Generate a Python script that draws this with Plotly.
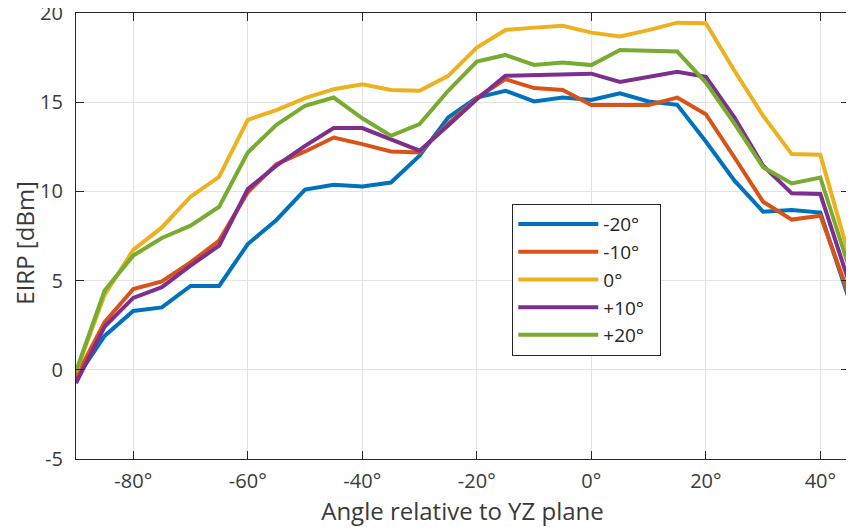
import plotly.graph_objects as go

angles = list(range(-90, 50, 5))
s_m20 = [-0.5, 1.9, 3.3, 3.5, 4.7, 4.7, 7.05, 8.4, 10.1, 10.37, 10.28, 10.5, 12.0, 14.14,
         15.26, 15.64, 15.04, 15.26, 15.12, 15.5, 15.04, 14.85, 12.8, 10.6, 8.86, 8.96, 8.81, 3.95]
s_m10 = [-0.4, 2.67, 4.53, 4.96, 6.02, 7.24, 9.95, 11.53, 12.24, 13.02, 12.65, 12.24, 12.18, 13.8,
         15.23, 16.29, 15.79, 15.69, 14.84, 14.84, 14.84, 15.26, 14.33, 11.9, 9.42, 8.42, 8.64, 4.2]
s_0 = [-0.13, 4.2, 6.72, 7.98, 9.7, 10.82, 14.01, 14.56, 15.23, 15.73, 16.01, 15.68, 15.64, 16.48,
       18.06, 19.05, 19.18, 19.28, 18.9, 18.68, 19.04, 19.46, 19.43, 16.76, 14.24, 12.09, 12.05, 6.4]
s_p10 = [-0.75, 2.42, 4.03, 4.63, 5.84, 6.96, 10.13, 11.44, 12.55, 13.55, 13.55, 12.93, 12.28, 13.7,
         15.17, 16.48, 16.53, 16.6, 16.6, 16.14, 16.42, 16.7, 16.42, 14.14, 11.44, 9.89, 9.85, 4.9]
s_p20 = [-0.08, 4.44, 6.4, 7.39, 8.08, 9.14, 12.18, 13.73, 14.8, 15.26, 14.1, 13.12, 13.77, 15.64,
         17.28, 17.65, 17.09, 17.22, 17.08, 17.93, 17.88, 17.84, 16.1, 13.8, 11.35, 10.45, 10.78, 5.74]

series = [("-20°", s_m20, "#0072BD"), ("-10°", s_m10, "#D95319"), ("0°", s_0, "#EDB120"),
          ("+10°", s_p10, "#7E2F8E"), ("+20°", s_p20, "#77AC30")]

x_ticks = [-80, -60, -40, -20, 0, 20, 40]
x_tick_labels = ["-80°", "-60°", "-40°", "-20°", "0°", "20°", "40°"]
y_ticks = [-5, 0, 5, 10, 15, 20]
y_tick_labels = ["-5", "0", "5", "10", "15", "20"]

fig = go.Figure()
for name, vals, col in series:
    fig.add_trace(go.Scatter(x=angles, y=vals, mode="lines", name=name + "\u00a0\u00a0",
                             line=dict(color=col, width=4)))

axis_common = dict(showline=True, linecolor="#262626", linewidth=1.3, mirror="ticks",
                   ticks="inside", ticklen=8, tickcolor="#262626", tickwidth=1.3,
                   showgrid=True, gridcolor="#e3e3e3", gridwidth=1.3, zeroline=False,
                   automargin=False, ticklabeloverflow="allow",
                   tickfont=dict(size=20, color="#3a3a3a"))

# page body has an 8px margin; figure sized so the plot lands where the reference has it
fig.update_layout(
    width=846, height=519,
    margin=dict(l=68, r=5, t=5, b=68),
    paper_bgcolor="white", plot_bgcolor="white",
    font=dict(family="Open Sans", color="#3a3a3a"),
    xaxis=dict(range=[-90, 45], tickvals=x_ticks, ticktext=x_tick_labels,
               ticklabelstandoff=4,
               title=dict(text="Angle relative to YZ plane", font=dict(size=24), standoff=0),
               **axis_common),
    yaxis=dict(range=[-5, 20.0001], tickvals=y_ticks, ticktext=y_tick_labels,
               ticklabelstandoff=8, **axis_common),
    legend=dict(x=0.564, y=0.572, xanchor="left", yanchor="top",
                bgcolor="white", bordercolor="#262626", borderwidth=1.3,
                font=dict(size=19, color="#262626"), itemwidth=80, tracegroupgap=0),
    showlegend=True,
    annotations=[dict(text="EIRP [dBm]", xref="paper", yref="paper", x=-0.066, y=0.485,
                      xanchor="center", yanchor="middle", textangle=-90, showarrow=False,
                      borderpad=0, font=dict(size=24, color="#3a3a3a"))],
)

fig.write_html("out.html")
